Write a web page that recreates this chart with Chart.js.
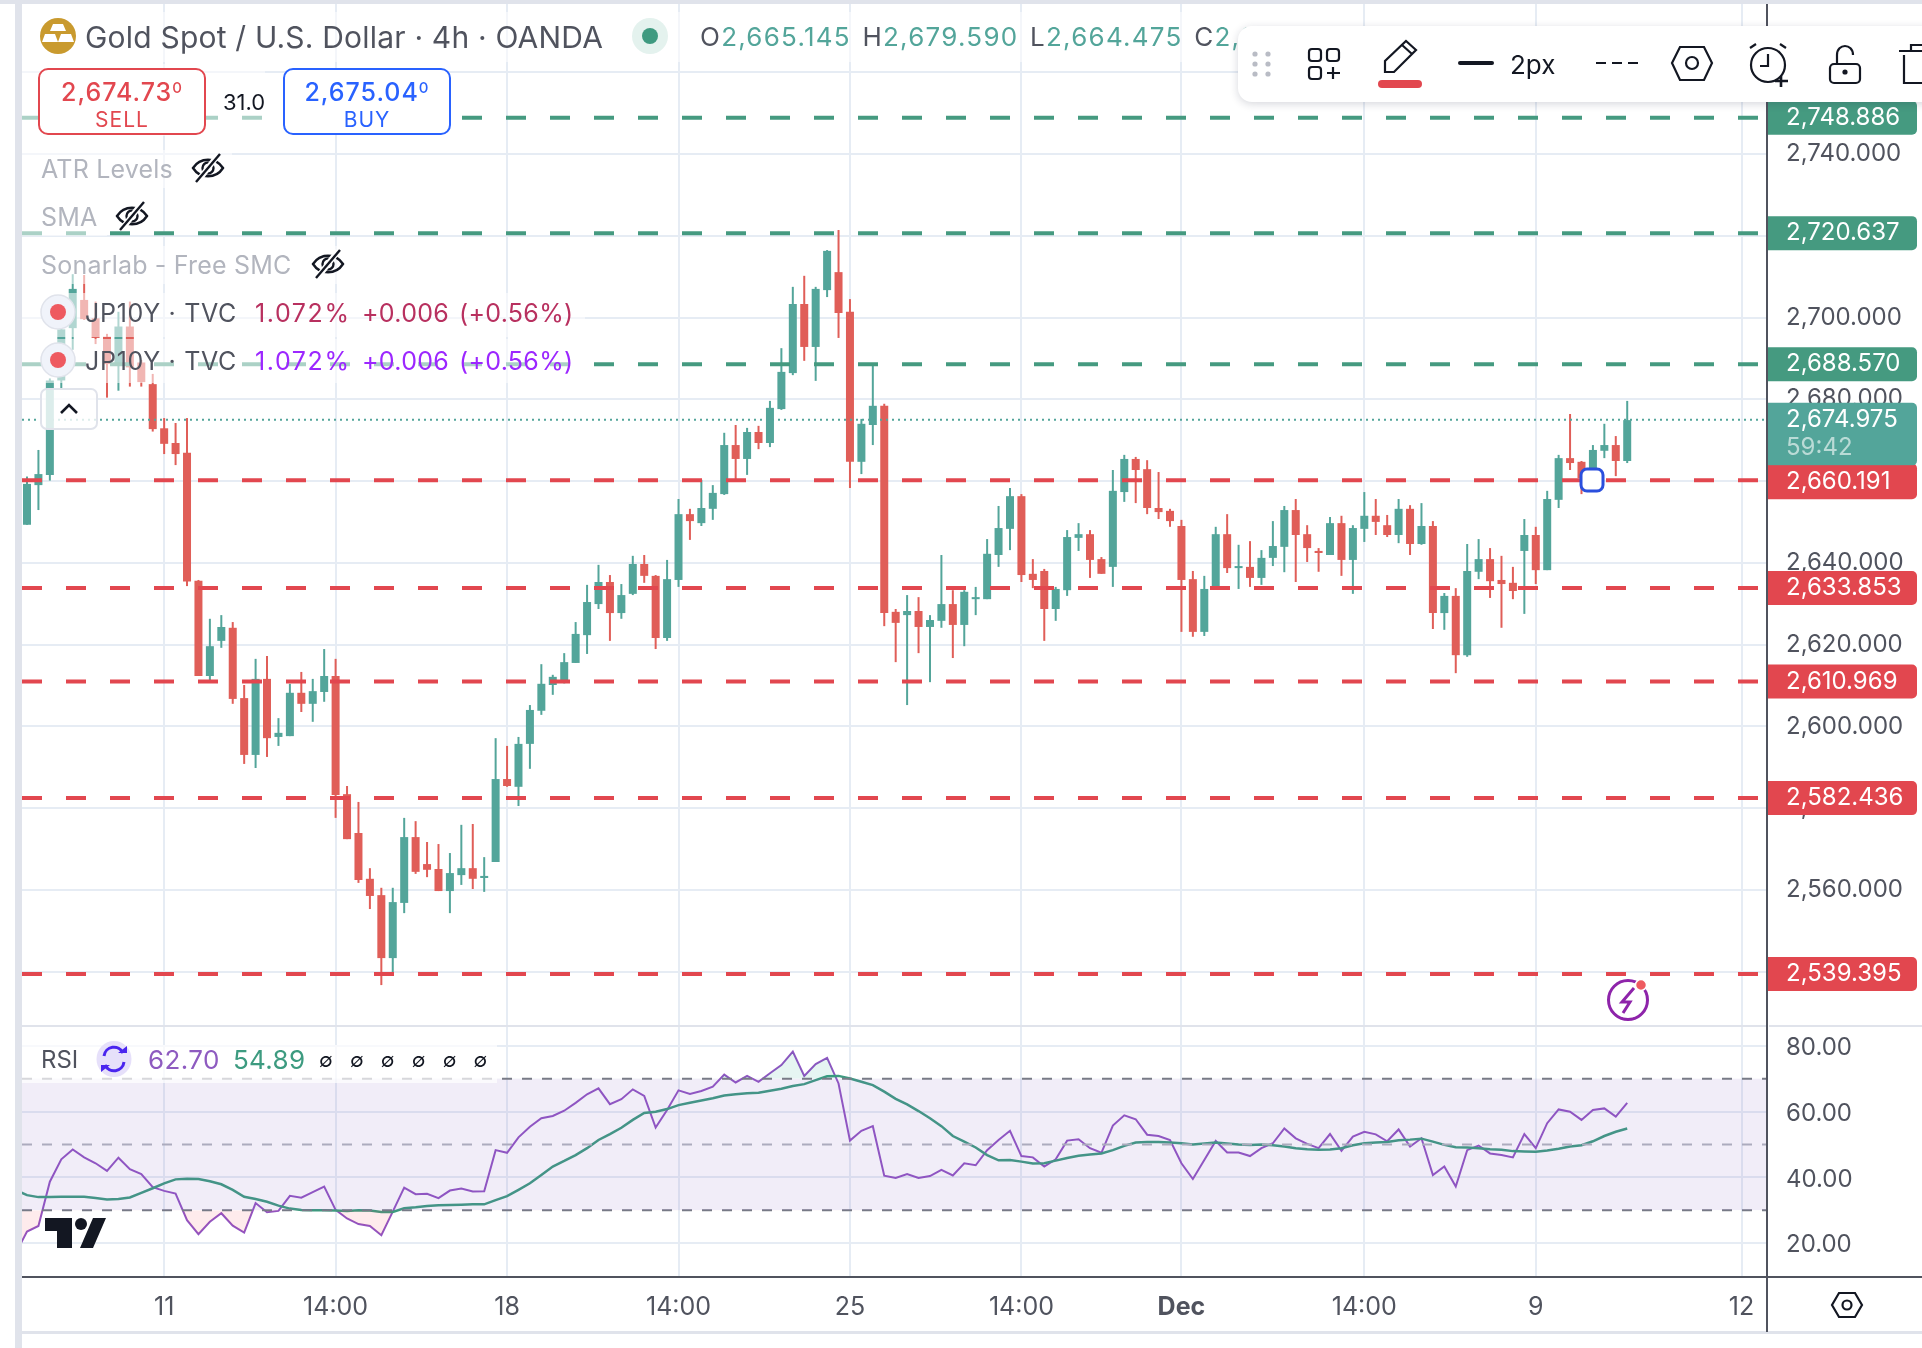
<!DOCTYPE html>
<html>
<head>
<meta charset="utf-8">
<title>Gold Spot / U.S. Dollar 4h</title>
<script src="https://cdn.jsdelivr.net/npm/chart.js@4"></script>
<style>
html, body { margin: 0; padding: 0; background: #fff; }
body { width: 1922px; height: 1348px; position: relative; overflow: hidden; font-family: Inter, "Noto Sans", sans-serif; color: #50535e; }
canvas { position: absolute; left: 22px; }
#mainChart { top: 4px; }
#rsiChart { top: 1026px; }
.abs, .fade, .txt { position: absolute; }
.fade { background: rgba(255,255,255,.55); }
.txt { white-space: nowrap; line-height: 1; transform: translateY(-50%); }
.bar { position: absolute; background: #e0e3eb; }
.dark { position: absolute; background: #50535e; }
.quote { position: absolute; top: 68px; height: 63px; width: 164px; background: #fff; border: 2px solid; border-radius: 10px; text-align: center; }
.quote b { display: block; font-weight: 500; font-size: 25px; line-height: 25px; margin-top: 10px; letter-spacing: 1px; }
.quote b sup { font-size: 15px; line-height: 0; vertical-align: 8px; }
.quote span { display: block; font-size: 21px; line-height: 22px; margin-top: 4px; letter-spacing: 1px; }
.hidden-name { color: #b2b5be; font-size: 25px; letter-spacing: .2px; }
.jp { font-size: 25px; letter-spacing: .3px; }
#toolbar { position: absolute; left: 1238px; top: 26px; width: 720px; height: 76px; background: #fff; border-radius: 14px; box-shadow: 0 2px 8px rgba(30,35,60,.18); }
svg { position: absolute; overflow: visible; }
</style>
</head>
<body>
<canvas id="mainChart" width="1900" height="1022"></canvas>
<canvas id="rsiChart" width="1900" height="306"></canvas>

<div class="bar" style="left:15px;top:0;width:7px;height:1348px"></div>
<div class="bar" style="left:0;top:0;width:1922px;height:4px"></div>
<div class="bar" style="left:22px;top:1025px;width:1745px;height:2px"></div>
<div class="bar" style="left:1769px;top:1025px;width:153px;height:2px"></div>
<div class="bar" style="left:22px;top:1331px;width:1900px;height:3px"></div>
<div class="dark" style="left:1766px;top:4px;width:2px;height:1328px"></div>
<div class="dark" style="left:22px;top:1276px;width:1900px;height:2px"></div>

<!-- legend rows fade what is under them -->
<div class="fade" style="left:22px;top:12px;width:1216px;height:50px"></div>
<div class="fade" style="left:22px;top:64px;width:243px;height:72px"></div>
<div class="fade" style="left:22px;top:150px;width:210px;height:38px"></div>
<div class="fade" style="left:22px;top:198px;width:85px;height:38px"></div>
<div class="fade" style="left:22px;top:246px;width:325px;height:38px"></div>
<div class="fade" style="left:22px;top:293px;width:563px;height:44px"></div>
<div class="fade" style="left:22px;top:339px;width:550px;height:44px"></div>
<div class="fade" style="left:22px;top:1045px;width:475px;height:38px;background:rgba(255,255,255,.7)"></div>

<svg style="left:0;top:0" width="1922" height="1348">
  <defs>
    <g id="eye" fill="none" stroke="#131722" stroke-width="2.4">
      <path d="M-15 0 C-8 -11 8 -11 15 0 C8 11 -8 11 -15 0 Z"/>
      <circle r="5.5"/>
      <path d="M-10 13 L10 -13" stroke="#fff" stroke-width="6"/>
      <path d="M-12 14 L12 -14"/>
    </g>
  </defs>
  <!-- gold icon -->
  <circle cx="58" cy="36" r="18" fill="#c99a2e"/>
  <path d="M53 25 h10 l3 7 h-16 z M42 43 l3 -8 h10 l3 8 z M58 43 l3 -8 h10 l3 8 z" transform="translate(0,-1)" fill="#fff"/>
  <!-- market status -->
  <circle cx="650" cy="36" r="18" fill="#e4f2ee"/>
  <circle cx="650" cy="36" r="8" fill="#3f9a80"/>
  <use href="#eye" x="208" y="168"/>
  <use href="#eye" x="132" y="216"/>
  <use href="#eye" x="328" y="264"/>
  <!-- series status dots -->
  <circle cx="58" cy="312" r="17" fill="#f0f3fa" stroke="#e0e3eb" stroke-width="1.5"/>
  <circle cx="58" cy="312" r="8" fill="#ee5a60"/>
  <circle cx="58" cy="360" r="17" fill="#f0f3fa" stroke="#e0e3eb" stroke-width="1.5"/>
  <circle cx="58" cy="360" r="8" fill="#ee5a60"/>
  <!-- collapse button -->
  <rect x="41" y="389" width="56" height="40" rx="6" fill="rgba(255,255,255,.8)" stroke="#e0e3eb" stroke-width="2"/>
  <path d="M61 413 L69 405 L77 413" fill="none" stroke="#131722" stroke-width="2.6"/>
  <!-- line handle -->
  <rect x="1581" y="469" width="22" height="22" rx="6" fill="#fff" stroke="#2b4fdd" stroke-width="3"/>
  <!-- lightning badge -->
  <circle cx="1628" cy="1000" r="19.5" fill="#fff" stroke="#8e24aa" stroke-width="3"/>
  <path d="M1634 988 L1622 1002 H1630 L1623 1013" fill="none" stroke="#8e24aa" stroke-width="3"/>
  <circle cx="1641" cy="985" r="5.5" fill="#ee5a60" stroke="#fff" stroke-width="1.5"/>
  <!-- rsi sync icon -->
  <ellipse cx="114" cy="1059" rx="17.5" ry="18" fill="#e6e0fa"/>
  <path d="M104 1056 A10 10 0 0 1 123 1053 M124 1062 A10 10 0 0 1 105 1065" fill="none" stroke="#4a25ef" stroke-width="3"/>
  <path d="M118 1053 h9 v-7 z M110 1065 h-9 v7 z" fill="#4a25ef"/>
  <!-- tradingview mark -->
  <path d="M45 1218 H72 V1248 H57 V1231 H45 Z M106 1218 L93 1248 H80 L93 1218 Z" fill="#131722"/>
  <circle cx="81" cy="1224" r="6" fill="#131722"/>
  <!-- settings hexagon -->
  <path d="M1839 1293 H1855 L1862 1305 L1855 1317 H1839 L1832 1305 Z" fill="none" stroke="#131722" stroke-width="2.2"/>
  <circle cx="1847" cy="1305" r="4.5" fill="none" stroke="#131722" stroke-width="2.2"/>
</svg>

<div class="txt" style="left:85px;top:37px;font-size:30px;letter-spacing:.2px;color:#50535e">Gold Spot / U.S. Dollar · 4h · OANDA</div>
<div class="txt" style="left:700px;top:37px;font-size:26px;letter-spacing:1.25px;word-spacing:3px;color:#53a59a"><span style="color:#50535e">O</span>2,665.145 <span style="color:#50535e">H</span>2,679.590 <span style="color:#50535e">L</span>2,664.475 <span style="color:#50535e">C</span>2,674.975</div>

<div class="quote" style="left:38px;border-color:#e2474f;color:#e2474f"><b>2,674.73<sup>0</sup></b><span>SELL</span></div>
<div class="txt" style="left:223px;top:102px;font-size:22px;color:#131722">31.0</div>
<div class="quote" style="left:283px;border-color:#2962ff;color:#2962ff"><b>2,675.04<sup>0</sup></b><span>BUY</span></div>

<div class="txt hidden-name" style="left:41px;top:169px">ATR Levels</div>
<div class="txt hidden-name" style="left:41px;top:217px">SMA</div>
<div class="txt hidden-name" style="left:41px;top:265px">Sonarlab - Free SMC</div>

<div class="txt jp" style="left:85px;top:313px;letter-spacing:.7px">JP10Y · TVC</div>
<div class="txt jp" style="left:255px;top:313px;letter-spacing:1.6px;color:#b8305f">1.072%</div>
<div class="txt jp" style="left:362px;top:313px;color:#b8305f">+0.006</div>
<div class="txt jp" style="left:459px;top:313px;color:#b8305f">(+0.56%)</div>
<div class="txt jp" style="left:85px;top:361px;letter-spacing:.7px">JP10Y · TVC</div>
<div class="txt jp" style="left:255px;top:361px;letter-spacing:1.6px;color:#9c27ff">1.072%</div>
<div class="txt jp" style="left:362px;top:361px;color:#9c27ff">+0.006</div>
<div class="txt jp" style="left:459px;top:361px;color:#9c27ff">(+0.56%)</div>

<div class="txt" style="left:41px;top:1060px;font-size:24px;color:#50535e">RSI</div>
<div class="txt" style="left:148px;top:1060px;font-size:26px;letter-spacing:.4px;color:#8e5bc0">62.70</div>
<div class="txt" style="left:233px;top:1060px;font-size:26px;letter-spacing:.3px;color:#3d9b80">54.89</div>
<div class="txt" style="left:319px;top:1060px;font-size:20px;color:#131722;word-spacing:11.6px">∅ ∅ ∅ ∅ ∅ ∅</div>

<div id="toolbar"></div>
<svg style="left:0;top:0" width="1922" height="102">
  <g fill="#b9bcc5">
    <circle cx="1255" cy="54" r="2.6"/><circle cx="1268" cy="54" r="2.6"/>
    <circle cx="1255" cy="64" r="2.6"/><circle cx="1268" cy="64" r="2.6"/>
    <circle cx="1255" cy="74" r="2.6"/><circle cx="1268" cy="74" r="2.6"/>
  </g>
  <g fill="none" stroke="#131722" stroke-width="2.2">
    <rect x="1309" y="49" width="12" height="12" rx="3"/><rect x="1327" y="49" width="12" height="12" rx="3"/>
    <rect x="1309" y="67" width="12" height="12" rx="3"/>
    <path d="M1333 67 v12 M1327 73 h13"/>
    <path d="M1385 72 V61 L1406 41 L1416 50 L1394 72 Z M1402 45 L1412 54"/>
    <path d="M1680 47 H1704 L1712 63 L1704 80 H1680 L1672 63 Z"/>
    <circle cx="1692" cy="63" r="6"/>
    <circle cx="1768" cy="65" r="17"/>
    <path d="M1768 54 V66 H1760 M1750 48 L1756 44 M1786 48 L1780 44"/>
    <path d="M1781 76 V87 M1775 81 H1788" stroke-width="2.6"/>
    <rect x="1830" y="64" width="30" height="19" rx="4"/>
    <path d="M1837 64 V55 C1837 43 1853 43 1853 55"/>
    <path d="M1904 55 V83 H1925 M1899 51 H1925 M1911 51 V45 H1922"/>
  </g>
  <rect x="1378" y="80" width="44" height="8" rx="4" fill="#e2474f"/>
  <rect x="1458" y="61" width="36" height="4" rx="2" fill="#131722"/>
  <path d="M1596 63 h10 M1612 63 h10 M1628 63 h10" stroke="#131722" stroke-width="2.2"/>
  <circle cx="1845" cy="72" r="2.6" fill="#131722"/>
</svg>
<div class="txt" style="left:1510px;top:65px;font-size:26px;color:#131722">2px</div>

<script>
const opens = [
  2649.3, 2659.0, 2661.5, 2684.6, 2697.4, 2704.3, 2699.8, 2695.3, 2688.6, 2697.8,
  2689.0, 2683.7, 2672.9, 2669.3, 2666.9, 2635.6, 2612.3, 2620.9, 2624.1, 2606.9,
  2593.0, 2611.6, 2597.4, 2597.6, 2608.2, 2605.5, 2608.4, 2612.3, 2583.4, 2573.9,
  2562.7, 2558.7, 2543.3, 2556.8, 2572.9, 2566.3, 2565.1, 2559.7, 2563.6, 2565.3,
  2562.9, 2566.8, 2587.1, 2585.2, 2595.7, 2603.8, 2610.1, 2611.3, 2615.5, 2622.3,
  2629.9, 2635.3, 2627.7, 2632.4, 2639.7, 2636.8, 2621.6, 2635.8, 2651.9, 2649.7,
  2653.2, 2656.8, 2668.8, 2665.4, 2672.0, 2669.3, 2677.6, 2686.4, 2703.3, 2692.8,
  2706.7, 2711.1, 2701.4, 2664.7, 2673.7, 2678.4, 2628.0, 2627.2, 2628.2, 2624.3,
  2625.8, 2629.9, 2624.8, 2631.1, 2631.1, 2641.9, 2648.3, 2656.3, 2637.3, 2638.0,
  2628.7, 2633.3, 2646.1, 2647.0, 2640.9, 2639.0, 2657.3, 2665.4, 2662.9, 2653.4,
  2652.7, 2649.0, 2636.0, 2623.1, 2633.6, 2647.0, 2638.7, 2639.0, 2636.3, 2641.2,
  2643.9, 2652.9, 2647.0, 2642.9, 2641.9, 2649.7, 2640.7, 2648.3, 2651.5, 2649.2,
  2646.8, 2653.2, 2644.6, 2649.0, 2627.7, 2631.9, 2617.4, 2637.8, 2640.9, 2635.8,
  2635.1, 2642.9, 2646.8, 2638.2, 2655.4, 2665.6, 2664.7, 2660.7, 2667.4, 2668.8, 2664.9
];
const closes = [
  2659.3, 2661.7, 2684.6, 2697.1, 2707.0, 2699.6, 2695.0, 2688.6, 2697.8, 2687.8,
  2684.2, 2672.7, 2669.1, 2666.6, 2635.4, 2612.3, 2619.6, 2624.3, 2606.7, 2593.0,
  2611.6, 2597.1, 2598.4, 2608.2, 2605.5, 2608.6, 2612.3, 2583.2, 2572.4, 2562.4,
  2558.5, 2543.3, 2557.0, 2572.9, 2564.4, 2564.9, 2559.7, 2564.1, 2565.3, 2562.7,
  2563.4, 2587.1, 2585.4, 2595.7, 2604.0, 2610.4, 2612.1, 2615.7, 2622.6, 2630.4,
  2635.3, 2627.7, 2632.1, 2639.7, 2636.8, 2621.6, 2636.0, 2651.9, 2650.2, 2653.4,
  2657.1, 2668.8, 2665.4, 2672.0, 2669.3, 2677.9, 2686.7, 2703.3, 2692.8, 2707.0,
  2716.3, 2701.1, 2664.7, 2674.0, 2678.4, 2627.7, 2625.3, 2628.2, 2624.3, 2626.0,
  2629.9, 2624.8, 2632.9, 2631.6, 2642.2, 2648.5, 2656.3, 2637.0, 2635.8, 2628.7,
  2633.6, 2646.3, 2647.0, 2640.7, 2637.3, 2657.6, 2665.4, 2662.7, 2653.4, 2652.4,
  2650.2, 2635.8, 2623.1, 2633.6, 2647.0, 2638.7, 2639.2, 2636.3, 2641.2, 2644.1,
  2652.9, 2646.8, 2643.6, 2642.4, 2649.7, 2640.7, 2648.5, 2651.5, 2650.0, 2646.8,
  2653.2, 2644.6, 2649.0, 2627.7, 2631.9, 2617.4, 2638.0, 2640.9, 2635.5, 2634.8,
  2633.1, 2646.8, 2638.2, 2655.6, 2665.6, 2664.4, 2660.7, 2667.6, 2668.8, 2664.9, 2674.9
];
const highs = [
  2661.1, 2667.6, 2685.1, 2699.4, 2710.6, 2710.4, 2703.9, 2696.0, 2701.4, 2703.9,
  2689.6, 2686.2, 2675.4, 2674.2, 2675.4, 2635.8, 2626.3, 2627.2, 2625.5, 2610.1,
  2616.5, 2617.2, 2602.0, 2610.4, 2613.3, 2611.6, 2618.9, 2616.5, 2585.4, 2581.5,
  2565.3, 2560.5, 2560.5, 2577.6, 2576.8, 2571.7, 2571.2, 2569.0, 2575.9, 2576.1,
  2568.0, 2597.1, 2595.2, 2597.4, 2605.2, 2615.2, 2612.6, 2617.9, 2625.5, 2634.6,
  2639.5, 2637.0, 2634.8, 2641.7, 2641.9, 2637.0, 2640.7, 2655.6, 2653.2, 2660.3,
  2659.0, 2671.8, 2673.7, 2673.0, 2673.5, 2679.6, 2692.5, 2707.5, 2710.2, 2707.5,
  2716.5, 2721.4, 2704.5, 2675.2, 2688.6, 2678.9, 2628.7, 2632.1, 2631.6, 2627.2,
  2641.9, 2633.3, 2633.3, 2634.1, 2645.8, 2653.9, 2658.3, 2656.8, 2640.9, 2638.5,
  2634.1, 2648.0, 2649.7, 2648.0, 2641.4, 2662.7, 2666.4, 2665.9, 2665.1, 2662.2,
  2653.2, 2650.5, 2638.0, 2636.8, 2648.8, 2651.9, 2644.4, 2645.3, 2643.1, 2650.2,
  2653.9, 2655.6, 2649.2, 2643.6, 2651.2, 2651.5, 2649.2, 2657.3, 2655.6, 2651.7,
  2655.6, 2654.1, 2654.6, 2650.2, 2632.6, 2633.8, 2644.6, 2645.8, 2643.6, 2641.7,
  2639.0, 2650.7, 2648.8, 2657.6, 2666.4, 2676.4, 2664.9, 2668.8, 2674.0, 2671.0, 2679.6
];
const lows = [
  2649.3, 2652.9, 2660.1, 2682.7, 2692.1, 2699.4, 2693.5, 2680.4, 2682.1, 2683.1,
  2683.1, 2672.1, 2666.6, 2663.9, 2634.3, 2612.3, 2611.3, 2619.2, 2605.5, 2590.8,
  2589.8, 2592.5, 2595.2, 2597.6, 2603.5, 2601.1, 2606.0, 2577.6, 2572.4, 2561.7,
  2555.3, 2536.7, 2539.9, 2554.3, 2563.9, 2563.1, 2559.7, 2554.3, 2561.2, 2560.2,
  2559.5, 2566.8, 2585.2, 2580.5, 2589.6, 2602.8, 2607.7, 2610.5, 2615.5, 2617.7,
  2628.7, 2620.9, 2626.3, 2632.1, 2635.1, 2618.9, 2620.9, 2634.1, 2645.6, 2649.0,
  2650.5, 2656.6, 2660.3, 2661.5, 2667.8, 2668.3, 2677.4, 2685.9, 2689.4, 2684.5,
  2705.0, 2695.0, 2658.3, 2661.7, 2668.8, 2624.5, 2615.7, 2605.2, 2617.9, 2610.8,
  2624.1, 2616.7, 2619.6, 2627.2, 2631.1, 2639.0, 2643.1, 2635.3, 2633.8, 2620.9,
  2625.8, 2631.9, 2642.9, 2636.3, 2637.3, 2634.1, 2654.9, 2654.6, 2651.9, 2650.7,
  2648.8, 2623.1, 2621.9, 2622.1, 2633.6, 2637.5, 2633.6, 2634.1, 2634.6, 2639.2,
  2637.7, 2635.3, 2640.2, 2637.8, 2641.9, 2636.8, 2632.4, 2645.1, 2646.8, 2646.3,
  2644.8, 2641.9, 2644.4, 2623.8, 2623.6, 2613.0, 2617.0, 2636.0, 2631.4, 2624.1,
  2631.1, 2627.5, 2634.8, 2638.2, 2653.4, 2662.7, 2656.8, 2658.6, 2665.6, 2661.2, 2664.4
];
// rsi and its average start one bar before the first visible candle
const rsiValues = [
  16.9,
  23.5, 25.2, 38.7, 45.5, 48.5, 46.1, 44.3, 42.0, 46.0, 42.5,
  41.0, 37.0, 35.9, 35.1, 27.0, 22.7, 26.5, 29.1, 25.3, 23.2,
  32.2, 29.4, 29.8, 34.4, 33.8, 35.5, 37.2, 30.1, 27.5, 25.8,
  25.2, 22.4, 29.6, 36.9, 34.9, 35.0, 33.7, 36.0, 36.6, 35.7,
  35.8, 48.3, 47.5, 52.2, 55.4, 58.0, 58.7, 60.3, 62.7, 65.3,
  67.1, 62.3, 63.8, 66.8, 64.8, 55.2, 60.5, 66.5, 65.4, 66.3,
  67.6, 71.3, 68.9, 70.9, 69.1, 71.7, 74.2, 78.3, 70.9, 74.5,
  76.4, 68.6, 51.2, 54.2, 55.6, 40.5, 39.8, 41.0, 39.8, 40.4,
  42.3, 40.6, 44.3, 43.7, 48.3, 51.4, 54.2, 46.5, 46.1, 43.3,
  45.5, 51.2, 51.6, 48.9, 47.5, 55.8, 58.9, 57.7, 53.0, 52.6,
  51.4, 44.3, 39.5, 45.3, 51.1, 47.6, 47.6, 46.5, 48.9, 50.4,
  54.9, 51.9, 50.2, 48.9, 53.2, 48.1, 52.4, 53.9, 53.1, 51.0,
  54.6, 49.4, 51.9, 40.7, 43.3, 37.2, 48.3, 49.7, 47.3, 46.8,
  46.1, 53.2, 48.9, 56.5, 60.7, 60.0, 57.5, 60.5, 61.0, 58.5, 62.7
];
const rsiAverage = [
  36.2,
  34.6, 34.0, 34.0, 34.1, 34.1, 34.1, 33.7, 33.3, 33.4, 33.9,
  35.3, 36.7, 38.2, 39.4, 39.6, 39.5, 38.8, 37.9, 36.2, 34.1,
  33.4, 32.6, 31.4, 30.5, 30.1, 30.0, 30.0, 29.9, 29.8, 30.0,
  29.9, 29.5, 29.5, 30.6, 30.9, 31.3, 31.5, 31.6, 31.7, 31.8,
  31.8, 33.1, 34.3, 36.2, 38.2, 40.7, 43.3, 45.0, 46.8, 48.9,
  51.4, 53.2, 55.1, 57.5, 59.6, 60.0, 60.8, 62.0, 62.7, 63.4,
  64.1, 64.9, 65.3, 65.6, 65.8, 66.4, 67.0, 67.8, 68.4, 69.6,
  70.8, 70.9, 70.1, 69.1, 68.1, 66.1, 63.9, 62.2, 60.2, 58.0,
  55.6, 52.6, 50.9, 49.1, 46.8, 45.2, 45.3, 44.8, 44.2, 44.3,
  45.1, 45.9, 46.6, 47.0, 47.3, 48.3, 49.6, 50.6, 50.8, 50.8,
  50.6, 50.4, 50.0, 50.3, 50.6, 50.3, 50.0, 49.9, 50.0, 49.8,
  49.4, 48.9, 48.6, 48.4, 48.5, 48.9, 49.8, 50.4, 50.6, 50.8,
  51.3, 51.5, 51.8, 50.9, 49.9, 49.2, 49.1, 48.9, 48.6, 48.4,
  48.0, 47.9, 47.8, 48.2, 48.7, 49.4, 49.8, 51.0, 52.6, 53.9, 54.9
];
const greenLevels = [2748.886, 2720.637, 2688.570];
const redLevels = [2660.191, 2633.853, 2610.969, 2582.436, 2539.395];
const lastPrice = 2674.975;
const countdown = '59:42';
const priceTicks = [2760, 2740, 2720, 2700, 2680, 2660, 2640, 2620, 2600, 2580, 2560, 2540];
const rsiTicks = [80, 60, 40, 20];
const rsiBands = [70, 50, 30];
const timeTickBars = [12, 27, 42, 57, 72, 87, 101, 117, 132, 150];
const timeTickNames = ['11', '14:00', '18', '14:00', '25', '14:00', 'Dec', '14:00', '9', '12'];

const UP = '#53a59a', DOWN = '#e05e58', GREEN_LINE = '#459a80', RED_LINE = '#e2474f';
const GRID = '#e6ecf4', AXIS_TEXT = '#50535e';
const FONT = 'Inter, "Noto Sans", sans-serif';
const X_MIN = -0.437, X_MAX = 152.23;
const AXIS_WIDTH = 155;

const fmtPrice = v => v.toLocaleString('en-US', { minimumFractionDigits: 3, maximumFractionDigits: 3 });

function barColor(i) { return closes[i] >= opens[i] ? UP : DOWN; }

function noScalePadding(axis) {
    axis.paddingLeft = axis.paddingRight = axis.paddingTop = axis.paddingBottom = 0;
}

function levelLine(value, color, dash, width) {
    return {
        type: 'line',
        data: [{ x: X_MIN, y: value }, { x: X_MAX, y: value }],
        borderColor: color, borderWidth: width, borderDash: dash, borderCapStyle: 'butt',
        pointRadius: 0, order: 0
    };
}

function timeAxis(showLabels) {
    return {
        type: 'linear', min: X_MIN, max: X_MAX, offset: false,
        afterBuildTicks: axis => { axis.ticks = timeTickBars.map(v => ({ value: v })); },
        afterFit: axis => { axis.height = showLabels ? 55 : 0; noScalePadding(axis); },
        grid: { color: GRID, lineWidth: 2, offset: false, drawTicks: false },
        border: { display: false },
        ticks: {
            display: showLabels, autoSkip: false, maxRotation: 0, padding: 15, color: AXIS_TEXT,
            callback: (v, i) => timeTickNames[i],
            font: ctx => ({ family: FONT, size: 25, weight: timeTickNames[ctx.index] === 'Dec' ? '700' : '400' })
        }
    };
}

function sideAxis(min, max, values, format, labelOffset) {
    return {
        position: 'right', min: min, max: max,
        afterBuildTicks: axis => { axis.ticks = values.map(v => ({ value: v })); },
        afterFit: axis => { axis.width = AXIS_WIDTH; noScalePadding(axis); },
        grid: { color: GRID, lineWidth: 2, drawTicks: false },
        border: { display: false },
        ticks: { padding: 19, labelOffset: labelOffset, color: AXIS_TEXT, font: { family: FONT, size: 24 }, callback: format }
    };
}

const priceTags = {
    id: 'priceTags',
    afterDraw(chart) {
        const c = chart.ctx, y = chart.scales.y, left = chart.chartArea.right + 1;
        const tag = (top, h, color) => {
            c.fillStyle = color;
            c.beginPath();
            c.roundRect(left, top, 149, h, [0, 5, 5, 0]);
            c.fill();
        };
        c.save();
        c.textBaseline = 'middle';
        c.font = '24px ' + FONT;
        const write = (text, py, color) => {
            c.fillStyle = color;
            c.fillText(text, left + 18, py);
        };
        greenLevels.concat(redLevels).forEach(level => {
            const py = y.getPixelForValue(level);
            tag(py - 17, 34, greenLevels.includes(level) ? GREEN_LINE : RED_LINE);
            write(fmtPrice(level), py, '#fff');
        });
        const py = y.getPixelForValue(lastPrice);
        tag(py - 17, 63, UP);
        write(fmtPrice(lastPrice), py, '#fff');
        write(countdown, py + 28, 'rgba(255,255,255,.6)');
        const red = y.getPixelForValue(redLevels[0]);
        tag(red - 15, 34, RED_LINE);
        write(fmtPrice(redLevels[0]), red + 2, '#fff');
        c.restore();
    }
};

const bodies = opens.map((o, i) => ({ x: i, y: [o, closes[i]] }));
const wicks = lows.map((l, i) => ({ x: i, y: [l, highs[i]] }));
const barColors = opens.map((o, i) => barColor(i));

new Chart(document.getElementById('mainChart'), {
    type: 'bar',
    plugins: [priceTags],
    data: {
        datasets: [
            ...greenLevels.map(v => levelLine(v, GREEN_LINE, [20, 24], 4)),
            ...redLevels.map(v => levelLine(v, RED_LINE, [20, 24], 4)),
            levelLine(lastPrice, UP, [2, 4], 2),
            { data: bodies, backgroundColor: barColors, barThickness: 8, grouped: false, inflateAmount: 0, order: 1 },
            { data: wicks, backgroundColor: barColors, barThickness: 2, grouped: false, inflateAmount: 0, order: 2 }
        ]
    },
    options: {
        responsive: false, animation: false, events: [],
        layout: { padding: 0, autoPadding: false },
        plugins: { legend: { display: false }, tooltip: { enabled: false } },
        scales: {
            x: timeAxis(false),
            y: sideAxis(2526.69, 2776.69, priceTicks, v => fmtPrice(v), 0)
        }
    }
});

const rsiPoints = values => values.map((v, i) => ({ x: i - 1, y: v }));
const flatLine = (value, color) => ({
    data: [{ x: X_MIN, y: value }, { x: X_MAX, y: value }],
    borderColor: color, borderWidth: 2, borderDash: [10, 10], borderCapStyle: 'butt', pointRadius: 0
});

new Chart(document.getElementById('rsiChart'), {
    type: 'line',
    data: {
        datasets: [
            { ...flatLine(rsiBands[0], '#787b86'), fill: { target: { value: rsiBands[2] }, above: 'rgba(126,87,194,.11)', below: 'transparent' } },
            flatLine(rsiBands[1], '#b2b5be'),
            flatLine(rsiBands[2], '#787b86'),
            { data: rsiPoints(rsiValues), borderWidth: 0, pointRadius: 0, fill: { target: { value: rsiBands[0] }, above: 'rgba(8,153,129,.1)', below: 'transparent' } },
            { data: rsiPoints(rsiValues), borderWidth: 0, pointRadius: 0, fill: { target: { value: rsiBands[2] }, above: 'transparent', below: 'rgba(242,54,69,.1)' } },
            { data: rsiPoints(rsiAverage), borderColor: '#3d9b80', borderWidth: 2.5, pointRadius: 0, tension: 0 },
            { data: rsiPoints(rsiValues), borderColor: '#9155c3', borderWidth: 2, pointRadius: 0, tension: 0 }
        ]
    },
    options: {
        responsive: false, animation: false, events: [],
        layout: { padding: 0, autoPadding: false },
        plugins: { legend: { display: false }, tooltip: { enabled: false } },
        scales: {
            x: timeAxis(true),
            y: sideAxis(9.68, 86.09, rsiTicks, v => v.toFixed(2), 2)
        }
    }
});
</script>
</body>
</html>
